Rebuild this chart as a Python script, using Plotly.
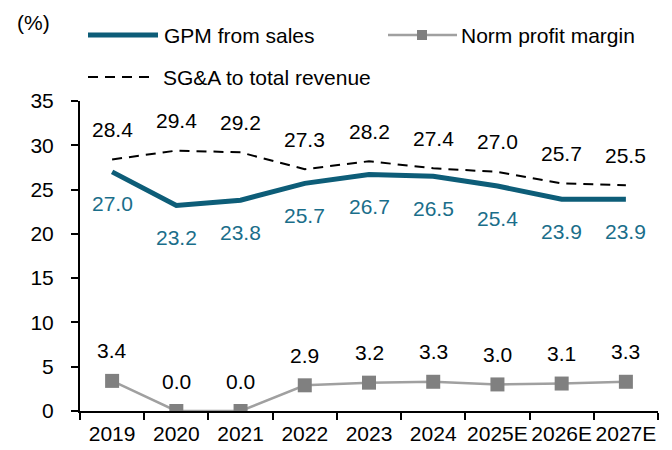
import plotly.graph_objects as go

years = ["2019", "2020", "2021", "2022", "2023", "2024", "2025E", "2026E", "2027E"]
gpm = [27.0, 23.2, 23.8, 25.7, 26.7, 26.5, 25.4, 23.9, 23.9]
norm = [3.4, 0.0, 0.0, 2.9, 3.2, 3.3, 3.0, 3.1, 3.3]
sga = [28.4, 29.4, 29.2, 27.3, 28.2, 27.4, 27.0, 25.7, 25.5]
series_names = ["GPM from sales", "Norm profit margin", "SG&A to total revenue"]

TEAL = "#0d5d78"
TEAL_TXT = "#1a6e8a"
GRAY = "#808080"
LGRAY = "#a0a0a0"
FONT = "Liberation Sans, Arial, sans-serif"
FS = 21
DASH = "10px,7px"

fig = go.Figure()
fig.add_trace(go.Scatter(x=years, y=gpm, mode="lines", name=series_names[0],
                         line=dict(color=TEAL, width=5), showlegend=False))
fig.add_trace(go.Scatter(x=years, y=norm, mode="lines+markers", name=series_names[1],
                         line=dict(color=LGRAY, width=2.5),
                         marker=dict(symbol="square", size=14, color=GRAY),
                         showlegend=False))
fig.add_trace(go.Scatter(x=years, y=sga, mode="lines", name=series_names[2],
                         line=dict(color="black", width=2, dash=DASH), showlegend=False))

ann = []
for i, v in enumerate(gpm):
    ann.append(dict(x=i, y=v, text=f"{v:.1f}", showarrow=False, yshift=-32,
                    font=dict(color=TEAL_TXT, size=FS, family=FONT)))
for i, v in enumerate(sga):
    ann.append(dict(x=i, y=v, text=f"{v:.1f}", showarrow=False, yshift=30,
                    font=dict(color="black", size=FS, family=FONT)))
for i, v in enumerate(norm):
    ann.append(dict(x=i, y=v, text=f"{v:.1f}", showarrow=False, yshift=30,
                    font=dict(color="black", size=FS, family=FONT)))

# unit label
ann.append(dict(xref="paper", yref="paper", x=-0.1125, y=1.2548, xanchor="left", yanchor="middle",
                text="(%)", showarrow=False, font=dict(color="black", size=FS, family=FONT)))

# manual legend (paper coordinates)
W, H, L, T = 578.0, 310.0, 80.0, 411.0
def px(x):
    return (x - L) / W
def py(y):
    return (T - y) / H

shapes = []
# GPM
shapes.append(dict(type="line", xref="paper", yref="paper", x0=px(88), x1=px(158), y0=py(35), y1=py(35),
                   line=dict(color=TEAL, width=5)))
ann.append(dict(xref="paper", yref="paper", x=px(162), y=py(35), xanchor="left", yanchor="middle",
                text=series_names[0], showarrow=False, font=dict(color="black", size=FS, family=FONT)))
# Norm
shapes.append(dict(type="line", xref="paper", yref="paper", x0=px(388), x1=px(457), y0=py(35), y1=py(35),
                   line=dict(color=LGRAY, width=2.5)))
shapes.append(dict(type="rect", xref="paper", yref="paper", x0=px(417), x1=px(427), y0=py(40), y1=py(30),
                   line=dict(width=0), fillcolor=GRAY))
ann.append(dict(xref="paper", yref="paper", x=px(459), y=py(35), xanchor="left", yanchor="middle",
                text=series_names[1], showarrow=False, font=dict(color="black", size=FS, family=FONT)))
# SG&A
shapes.append(dict(type="line", xref="paper", yref="paper", x0=px(88), x1=px(152), y0=py(77), y1=py(77),
                   line=dict(color="black", width=2, dash=DASH)))
ann.append(dict(xref="paper", yref="paper", x=px(161), y=py(77), xanchor="left", yanchor="middle",
                text=series_names[2], showarrow=False, font=dict(color="black", size=FS, family=FONT)))

fig.update_layout(
    width=672, height=450,
    margin=dict(l=80, r=14, t=101, b=39),
    paper_bgcolor="white", plot_bgcolor="white",
    font=dict(family=FONT, size=FS, color="black"),
    annotations=ann, shapes=shapes, showlegend=False,
    xaxis=dict(type="category", range=[-0.5, 8.5], showline=True, linecolor="black", linewidth=2,
               ticks="outside", tickson="boundaries", ticklen=7, tickwidth=2, tickcolor="black",
               tickangle=0, automargin=False, ticklabelstandoff=3,
               showgrid=False, tickfont=dict(size=FS)),
    yaxis=dict(range=[0, 35], dtick=5, showline=True, linecolor="black", linewidth=2,
               ticks="outside", ticklen=7, tickwidth=2, tickcolor="black", ticklabelstandoff=13,
               automargin=False,
               showgrid=False, zeroline=False, tickfont=dict(size=FS)),
)

fig.write_html("out.html")
